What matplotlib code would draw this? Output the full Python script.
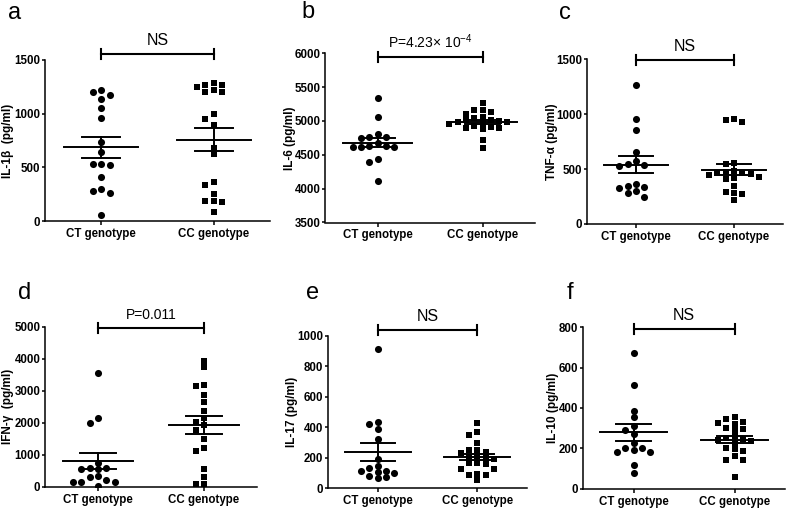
import numpy as np
import matplotlib
matplotlib.use("Agg")
import matplotlib.pyplot as plt

plt.rcParams['font.family'] = ['Liberation Sans', 'DejaVu Sans']
plt.rcParams['mathtext.fontset'] = 'custom'
plt.rcParams['mathtext.rm'] = 'Liberation Sans'
plt.rcParams['mathtext.it'] = 'Liberation Sans:italic'
plt.rcParams['mathtext.bf'] = 'Liberation Sans:bold'

# ---------------- data ----------------
groups = ["CT genotype", "CC genotype"]

il1b_ct = [1220, 1205, 1175, 1135, 1050, 955, 735, 640, 530, 530, 520, 410, 300, 275, 265, 55]
il1b_cc = [1285, 1265, 1220, 1200, 1205, 1245, 1265, 1000, 950, 890, 680, 625, 365, 335, 250, 185, 185, 175, 85]

il6_ct = [5340, 5060, 4805, 4760, 4760, 4755, 4680, 4625, 4625, 4620, 4620, 4620, 4440, 4390, 4115]
il6_cc = [5268, 5168, 5158, 5134, 5109, 5060, 5040, 5020, 5010, 5000, 4990, 4980, 4970, 4960, 4930,
          4910, 4900, 4890, 4880, 4722, 4598]

tnf_ct = [1265, 960, 855, 655, 575, 545, 535, 530, 360, 345, 340, 330, 300, 280, 250]
tnf_cc = [955, 945, 930, 555, 545, 480, 470, 465, 460, 455, 450, 430, 420, 410, 345, 295, 280, 275, 220]

ifng_ct = [3540, 2150, 1980, 750, 590, 580, 560, 540, 320, 300, 210, 160, 150, 150, 30]
ifng_cc = [3940, 3750, 3180, 3150, 2870, 2640, 2380, 2140, 2030, 1930, 1760, 1490, 1200, 1120, 540, 290, 80, 70]

il17_ct = [912, 438, 420, 389, 324, 193, 145, 131, 116, 116, 105, 98, 81, 77, 66]
il17_cc = [430, 370, 350, 295, 250, 250, 240, 230, 210, 205, 200, 195, 165, 165, 160, 130, 130, 95, 85, 85, 55]

il10_ct = [671, 516, 387, 354, 312, 290, 270, 225, 203, 203, 190, 183, 183, 116, 79]
il10_cc = [354, 344, 330, 327, 320, 300, 295, 290, 260, 250, 245, 240, 235, 225, 200, 195, 185, 160, 142, 142, 60]

ylabels = ["IL-1\u03b2  (pg/ml)", "IL-6 (pg/ml)", "TNF-\u03b1 (pg/ml)",
           "IFN-\u03b3  (pg/ml)", "IL-17 (pg/ml)", "IL-10 (pg/ml)"]
pvals = ["NS", "P=4.23\u00d7 10$^{-4}$", "NS", "P=0.011", "NS", "NS"]
letters = ["a", "b", "c", "d", "e", "f"]
ylims = [(0, 1500), (3500, 6000), (0, 1500), (0, 5000), (0, 1000), (0, 800)]
ysteps = [500, 500, 500, 1000, 200, 200]

series = [(il1b_ct, il1b_cc), (il6_ct, il6_cc), (tnf_ct, tnf_cc),
          (ifng_ct, ifng_cc), (il17_ct, il17_cc), (il10_ct, il10_cc)]

# ---------------- layout (pixels) ----------------
W, H = 787, 509
boxes = [(45, 60, 270, 221), (325, 53.3, 535, 222.5), (587, 59.3, 783, 224),
         (45, 326.7, 257, 486.7), (328, 336, 527, 488.3), (583, 327.3, 785, 488.7)]
bracket_y = [54, 57.3, 60, 328, 330, 329]
letter_pos = [(15, 13), (308, 12), (565, 13), (25, 293), (313, 293), (570, 293)]
ylabel_x = [8, 290, 552, 8, 292, 553]

fig = plt.figure(figsize=(W / 100, H / 100), dpi=100)


def swarm(ax, vals, center, marker, size, px_x, px_y):
    spacing = 8.3
    dmin = 5.5
    placed = []
    xs = []
    order = [0]
    for i in range(1, 10):
        order += [-i, i]
    for v in vals:
        ypx = v * px_y
        for k in order:
            if all(not (c == k and abs(y - ypx) < dmin) for c, y in placed):
                break
        placed.append((k, ypx))
        xs.append(center + k * spacing / px_x)
    ax.scatter(xs, vals, s=size, marker=marker, color='black', linewidths=0, zorder=3)


for i, (l, t, r, b) in enumerate(boxes):
    ax = fig.add_axes([l / W, 1 - b / H, (r - l) / W, (b - t) / H])
    lo, hi = ylims[i]
    ax.set_xlim(-0.5, 1.5)
    ax.set_ylim(lo, hi)
    px_x = (r - l) / 2.0
    px_y = (b - t) / (hi - lo)
    ct, cc = series[i]
    swarm(ax, ct, 0, 'o', 26, px_x, px_y)
    swarm(ax, cc, 1, 's', 22, px_x, px_y)
    for xc, vals in [(0, ct), (1, cc)]:
        arr = np.array(vals, dtype=float)
        m = arr.mean()
        sem = arr.std(ddof=1) / np.sqrt(len(arr))
        ax.plot([xc - 0.33, xc + 0.33], [m, m], color='black', lw=1.4, zorder=4)
        ax.plot([xc - 0.17, xc + 0.17], [m + sem, m + sem], color='black', lw=1.4, zorder=4)
        ax.plot([xc - 0.17, xc + 0.17], [m - sem, m - sem], color='black', lw=1.4, zorder=4)
        ax.plot([xc, xc], [m - sem, m + sem], color='black', lw=1.4, zorder=4)

    ax.set_yticks(np.arange(lo, hi + 1, ysteps[i]))
    ax.set_xticks([0, 1])
    ax.set_xticklabels(groups, fontsize=8.3, fontweight='bold')
    ax.tick_params(axis='y', direction='out', length=2.5, width=1.1, labelsize=8.3, pad=0.8)
    ax.tick_params(axis='x', direction='out', length=3, width=1.1, pad=2)
    for lab in ax.get_yticklabels():
        lab.set_fontweight('bold')
    for s in ['top', 'right']:
        ax.spines[s].set_visible(False)
    for s in ['left', 'bottom']:
        ax.spines[s].set_linewidth(1.1)
    ax.set_ylabel(ylabels[i], fontsize=8.5, fontweight='bold', va='center')
    ax.yaxis.set_label_coords((ylabel_x[i] - l) / (r - l), 0.5)

    # significance bracket
    yb = (b - bracket_y[i]) / (b - t)
    cap = 5.0 / (b - t)
    tr = ax.get_xaxis_transform()
    ax.plot([0, 1], [yb, yb], color='black', lw=1.5, transform=tr, clip_on=False)
    for xc in [0, 1]:
        ax.plot([xc, xc], [yb - cap, yb + cap], color='black', lw=1.5, transform=tr, clip_on=False)
    fs = 11.5 if pvals[i] == "NS" else 10
    ax.annotate(pvals[i], xy=(0.5, yb), xycoords=tr, xytext=(0, 6.5),
                textcoords='offset points', ha='center', va='baseline', fontsize=fs)

    lx, ly = letter_pos[i]
    fig.text(lx / W, 1 - ly / H, letters[i], fontsize=17, ha='center', va='center')

fig.savefig("out.png", dpi=100)
